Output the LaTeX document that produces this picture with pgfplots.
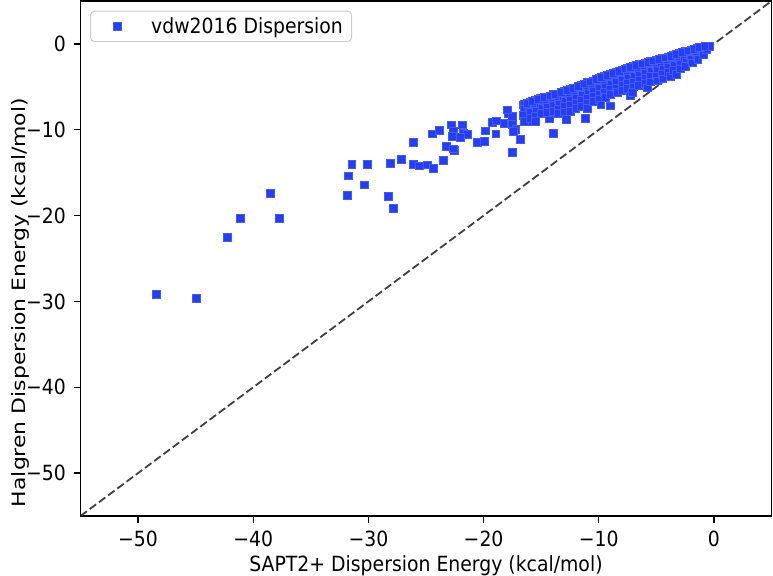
\documentclass[border=0pt]{standalone}
\usepackage{fontspec}
\setmainfont{DejaVu Sans}[FakeStretch=0.9]
\newfontfamily\ylabfont{DejaVu Sans}[FakeStretch=1.19]
\usepackage{pgfplots}
\pgfplotsset{compat=1.18}
\definecolor{mblue}{RGB}{36,62,245}
\definecolor{dgray}{RGB}{64,64,64}
\begin{document}
\begin{tikzpicture}
\begin{axis}[
  scale only axis, width=691bp, height=515bp,
  xmin=-55, xmax=5, ymin=-55, ymax=5,
  axis line style={line width=1.2bp},
  tick style={line width=1.2bp, black},
  tick align=outside, major tick length=6.5bp,
  tick pos=left,
  xtick={-50,-40,-30,-20,-10,0}, xticklabels={−50,−40,−30,−20,−10,0},
  ytick={-50,-40,-30,-20,-10,0}, yticklabels={−50,−40,−30,−20,−10,0},
  tick label style={font=\fontsize{21}{25}\selectfont},
  xticklabel style={inner sep=0pt, yshift=-8bp},
  yticklabel style={inner sep=0pt, xshift=-8bp},
  xlabel={SAPT2+ Dispersion Energy (kcal/mol)},
  ylabel={Halgren Dispersion Energy (kcal/mol)},
  xlabel style={at={(axis description cs:0.5,-0.1068)}, anchor=base, inner sep=0pt, font=\fontsize{21}{25}\selectfont},
  ylabel style={at={(axis description cs:-0.0731,0.4145)}, anchor=south, inner sep=0pt, font=\ylabfont\fontsize{18.5}{22}\selectfont},
  legend style={at={(axis description cs:0.01375,0.9812)}, anchor=north west,
    draw=black!20, line width=1bp, rounded corners=4bp, fill=white,
    inner xsep=6.7bp, inner ysep=4.5bp, font=\fontsize{21}{25}\selectfont,
    nodes={inner sep=2bp}, column sep=0pt},
  legend image code/.code={\path[draw=none,fill=none] (0bp,0bp) -- (52bp,0bp); \draw[sharp corners,#1] plot coordinates {(20.3bp,0bp)};},
]
\addplot[only marks, mark=square*, mark size=3.9bp,
  mark options={fill=mblue, draw=mblue!85!white, line width=0.5bp, sharp corners}] table[header=false] {
-48.41 -29.19
-44.93 -29.65
-42.27 -22.56
-41.10 -20.27
-38.55 -17.41
-37.71 -20.27
-31.74 -15.35
-30.37 -16.40
-31.85 -17.64
-31.44 -13.99
-30.08 -13.99
-28.31 -17.76
-27.85 -19.10
-28.08 -13.87
-27.18 -13.41
-26.13 -11.48
-26.13 -14.03
-25.56 -14.19
-24.91 -14.07
-24.36 -14.50
-23.52 -13.57
-23.26 -11.90
-22.54 -12.41
-22.65 -12.21
-24.43 -10.47
-23.82 -10.08
-22.82 -9.42
-22.65 -10.20
-22.71 -10.78
-21.87 -9.42
-21.78 -10.38
-21.43 -10.55
-22.01 -10.85
-20.56 -11.48
-19.93 -11.31
-19.87 -10.12
-19.26 -9.10
-18.91 -8.95
-18.94 -10.47
-18.25 -9.22
-17.90 -8.06
-17.49 -8.45
-17.49 -9.38
-17.20 -9.92
-16.85 -11.08
-17.49 -12.64
-16.59 -7.09
-16.21 -8.99
-15.77 -9.03
-15.64 -8.06
-15.11 -6.31
-14.33 -6.31
-13.95 -10.38
-14.33 -8.64
-12.79 -8.76
-11.14 -8.64
-9.02 -7.21
-7.28 -6.05
-17.95 -7.67
-17.40 -10.20
-16.50 -7.00
-16.45 -7.65
-16.55 -8.30
-16.50 -9.00
-16.00 -6.80
-16.05 -7.40
-15.95 -8.00
-16.00 -8.70
-15.50 -6.60
-15.55 -7.20
-15.45 -7.80
-15.50 -8.40
-15.50 -9.00
-15.00 -6.30
-15.05 -6.90
-14.95 -7.50
-15.00 -8.10
-14.50 -6.20
-14.55 -6.80
-14.45 -7.40
-14.50 -8.00
-14.00 -5.90
-14.05 -6.50
-13.95 -7.10
-14.00 -7.80
-13.50 -5.80
-13.55 -6.40
-13.45 -7.00
-13.50 -7.60
-13.50 -8.10
-13.00 -5.50
-13.05 -6.10
-12.95 -6.70
-13.00 -7.30
-13.00 -7.90
-12.50 -5.30
-12.55 -5.90
-12.45 -6.50
-12.50 -7.10
-12.50 -7.80
-12.00 -5.10
-12.05 -5.70
-11.95 -6.30
-12.00 -6.90
-12.00 -7.50
-11.50 -4.80
-11.55 -5.40
-11.45 -6.00
-11.50 -6.60
-11.50 -7.30
-11.00 -4.50
-11.05 -5.10
-10.95 -5.70
-11.00 -6.30
-11.00 -6.90
-11.00 -7.50
-10.50 -4.30
-10.55 -4.90
-10.45 -5.50
-10.50 -6.10
-10.50 -6.70
-10.00 -4.00
-10.05 -4.60
-9.95 -5.20
-10.00 -5.80
-10.00 -6.40
-9.83 -7.09
-9.50 -3.80
-9.55 -4.40
-9.45 -5.00
-9.50 -5.60
-9.45 -6.20
-9.00 -3.50
-9.05 -4.10
-8.95 -4.70
-9.00 -5.30
-9.00 -5.90
-8.50 -3.30
-8.55 -3.90
-8.45 -4.50
-8.50 -5.10
-8.40 -5.60
-8.00 -3.00
-8.05 -3.60
-7.95 -4.20
-8.00 -4.80
-8.00 -5.40
-7.50 -2.80
-7.55 -3.40
-7.45 -4.00
-7.50 -4.60
-7.50 -5.20
-7.00 -2.60
-7.05 -3.20
-6.95 -3.80
-7.00 -4.40
-7.00 -5.00
-7.07 -5.60
-6.50 -2.40
-6.55 -3.00
-6.45 -3.60
-6.50 -4.20
-6.55 -4.80
-6.00 -2.20
-6.05 -2.80
-5.95 -3.40
-6.00 -4.00
-6.00 -4.60
-5.77 -5.10
-5.50 -2.00
-5.55 -2.60
-5.45 -3.20
-5.50 -3.80
-5.50 -4.40
-5.00 -1.90
-5.05 -2.50
-4.95 -3.10
-5.00 -3.70
-4.90 -4.30
-4.50 -1.70
-4.55 -2.30
-4.45 -2.90
-4.50 -3.50
-4.45 -4.05
-4.00 -1.50
-4.05 -2.10
-3.95 -2.70
-4.00 -3.30
-3.80 -3.80
-3.50 -1.30
-3.55 -1.90
-3.45 -2.50
-3.50 -3.10
-3.30 -3.50
-3.00 -1.10
-3.05 -1.70
-2.95 -2.30
-2.90 -2.90
-2.50 -0.90
-2.55 -1.50
-2.45 -2.10
-2.50 -2.60
-2.00 -0.70
-2.05 -1.30
-1.95 -1.80
-1.90 -2.20
-1.50 -0.50
-1.55 -1.00
-1.45 -1.50
-1.40 -1.80
-1.00 -0.35
-1.05 -0.80
-0.95 -1.20
-0.60 -0.25
-0.65 -0.60
-0.40 -0.30
-16.25 -6.90
-15.75 -6.70
-15.25 -6.45
-14.75 -6.25
-14.25 -6.05
-13.75 -5.85
-13.25 -5.65
-12.75 -5.40
-12.25 -5.20
-11.75 -4.95
-11.25 -4.65
-10.75 -4.40
-10.25 -4.15
-9.75 -3.90
-9.25 -3.65
-8.75 -3.40
-8.25 -3.15
-7.75 -2.90
-7.25 -2.70
-6.75 -2.50
-6.25 -2.30
-5.75 -2.10
-5.25 -1.95
-4.75 -1.80
-4.25 -1.60
-3.75 -1.40
-3.25 -1.20
-2.75 -1.00
-2.25 -0.80
-1.75 -0.60
-1.25 -0.42
-0.80 -0.30
};
\addlegendentry{vdw2016 Dispersion}
\addplot[dgray, line width=1.8bp, dash pattern=on 8bp off 3.5bp, forget plot] coordinates {(-55,-55) (5,5)};
\end{axis}
\path[use as bounding box] ([shift={(-80.5bp,-59bp)}]current axis.south west) rectangle ([shift={(1.5bp,1bp)}]current axis.north east);
\end{tikzpicture}
\end{document}
